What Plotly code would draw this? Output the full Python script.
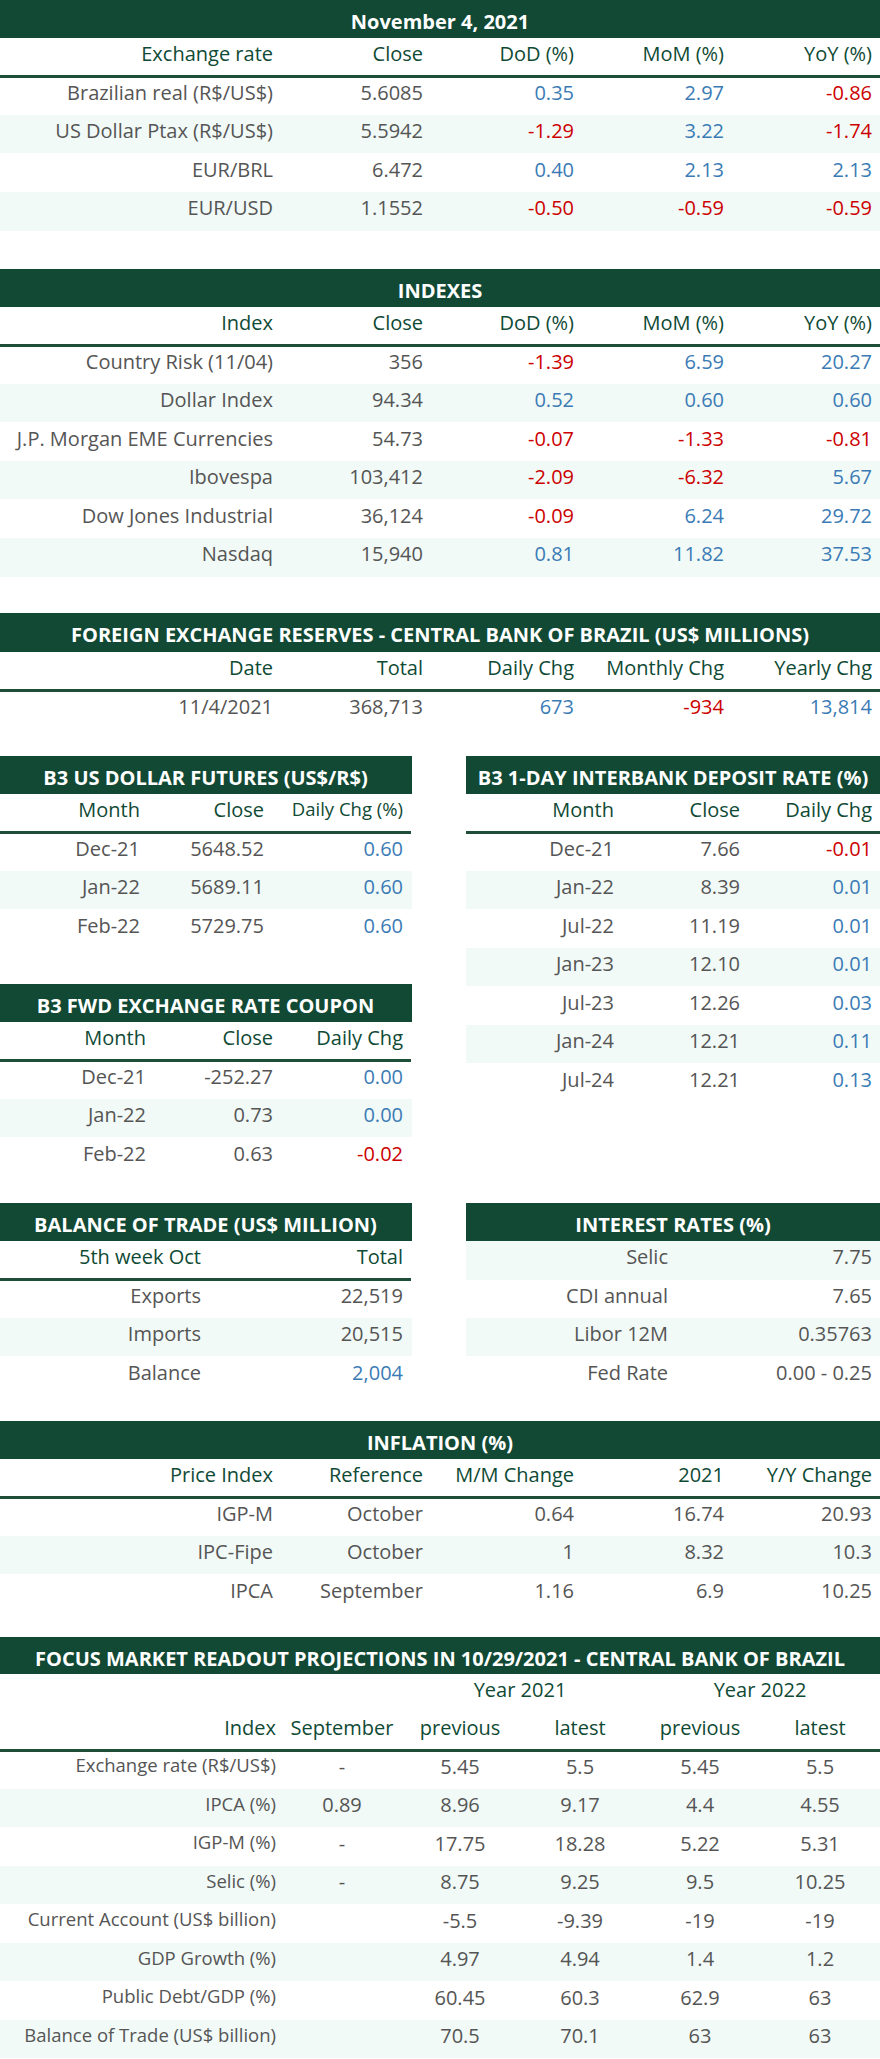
import plotly.graph_objects as go

W, H = 880, 2059
ROW = 38.5
FONT = "Open Sans"
SIZE = 20
GREEN = "#114935"
HEAD = "#0f4a35"
TEXT = "#555555"
BLUE = "#3b7bb5"
RED = "#cc0000"
BAND = "#f1faf7"

# Exchange rate table
fx_names = ["Brazilian real (R$/US$)", "US Dollar Ptax (R$/US$)", "EUR/BRL", "EUR/USD"]
fx_close = ["5.6085", "5.5942", "6.472", "1.1552"]
fx_dod = ["0.35", "-1.29", "0.40", "-0.50"]
fx_mom = ["2.97", "3.22", "2.13", "-0.59"]
fx_yoy = ["-0.86", "-1.74", "2.13", "-0.59"]

# Indexes
idx_names = ["Country Risk (11/04)", "Dollar Index", "J.P. Morgan EME Currencies",
             "Ibovespa", "Dow Jones Industrial", "Nasdaq"]
idx_close = ["356", "94.34", "54.73", "103,412", "36,124", "15,940"]
idx_dod = ["-1.39", "0.52", "-0.07", "-2.09", "-0.09", "0.81"]
idx_mom = ["6.59", "0.60", "-1.33", "-6.32", "6.24", "11.82"]
idx_yoy = ["20.27", "0.60", "-0.81", "5.67", "29.72", "37.53"]

# Foreign exchange reserves
res_date = ["11/4/2021"]
res_total = ["368,713"]
res_daily = ["673"]
res_monthly = ["-934"]
res_yearly = ["13,814"]

# B3 US dollar futures
fut_month = ["Dec-21", "Jan-22", "Feb-22"]
fut_close = ["5648.52", "5689.11", "5729.75"]
fut_chg = ["0.60", "0.60", "0.60"]

# B3 1-day interbank deposit rate
di_month = ["Dec-21", "Jan-22", "Jul-22", "Jan-23", "Jul-23", "Jan-24", "Jul-24"]
di_close = ["7.66", "8.39", "11.19", "12.10", "12.26", "12.21", "12.21"]
di_chg = ["-0.01", "0.01", "0.01", "0.01", "0.03", "0.11", "0.13"]

# B3 fwd exchange rate coupon
cpn_month = ["Dec-21", "Jan-22", "Feb-22"]
cpn_close = ["-252.27", "0.73", "0.63"]
cpn_chg = ["0.00", "0.00", "-0.02"]

# Balance of trade
bot_items = ["Exports", "Imports", "Balance"]
bot_total = ["22,519", "20,515", "2,004"]

# Interest rates
ir_names = ["Selic", "CDI annual", "Libor 12M", "Fed Rate"]
ir_values = ["7.75", "7.65", "0.35763", "0.00 - 0.25"]

# Inflation
inf_index = ["IGP-M", "IPC-Fipe", "IPCA"]
inf_ref = ["October", "October", "September"]
inf_mm = ["0.64", "1", "1.16"]
inf_2021 = ["16.74", "8.32", "6.9"]
inf_yy = ["20.93", "10.3", "10.25"]

# Focus projections
focus_index = ["Exchange rate (R$/US$)", "IPCA (%)", "IGP-M (%)", "Selic (%)",
               "Current Account (US$ billion)", "GDP Growth (%)",
               "Public Debt/GDP (%)", "Balance of Trade (US$ billion)"]
focus_sep = ["-", "0.89", "-", "-", "", "", "", ""]
focus_21_prev = ["5.45", "8.96", "17.75", "8.75", "-5.5", "4.97", "60.45", "70.5"]
focus_21_last = ["5.5", "9.17", "18.28", "9.25", "-9.39", "4.94", "60.3", "70.1"]
focus_22_prev = ["5.45", "4.4", "5.22", "9.5", "-19", "1.4", "62.9", "63"]
focus_22_last = ["5.5", "4.55", "5.31", "10.25", "-19", "1.2", "63", "63"]
focus_years = ["", "Year 2021", "Year 2022"]


def sign_colors(vals):
    return [RED if float(v.replace(",", "")) < 0 else BLUE for v in vals]


def xdom(left, right):
    return [left / W, right / W]


def ydom(top, bottom):
    return [max(0, 1 - bottom / H), 1 - top / H]


fig = go.Figure()
shapes = []


def add_strip(values, widths, left, right, top, height, fill, color, bold=False):
    # one-row band drawn as a table header; its blank cell row sits under the next table
    if bold:
        values = ["<b>" + v + "</b>" if v else v for v in values]
    fig.add_trace(go.Table(
        domain=dict(x=xdom(left, right), y=ydom(top, top + height + ROW + 4)),
        columnwidth=widths,
        header=dict(values=values, fill_color=fill, line=dict(color=fill, width=1),
                    align="center", height=height,
                    font=dict(family=FONT, size=SIZE, color=color)),
        cells=dict(values=[[""] for _ in values], fill_color="white",
                   line=dict(color="white", width=1), height=ROW)))


def add_title(text, left, right, top, height=38):
    add_strip([text], [1], left, right, top, height, GREEN, "white", bold=True)


def add_body(cols, header, widths, aligns, colors, left, right, top,
             header_h=38.5, header_fill="white", header_color=HEAD, underline=True,
             head_sizes=SIZE, cell_sizes=SIZE):
    n = len(cols[0])
    fills = [BAND if i % 2 == 1 else "white" for i in range(n)]
    total = header_h + n * ROW
    fig.add_trace(go.Table(
        domain=dict(x=xdom(left, right), y=ydom(top, top + total + 4)),
        columnwidth=widths,
        header=dict(values=header, fill_color=header_fill,
                    line=dict(color=header_fill, width=1), align=aligns, height=header_h,
                    font=dict(family=FONT, size=head_sizes, color=header_color)),
        cells=dict(values=cols, fill_color=[fills], line=dict(color=[fills], width=1),
                   align=aligns, height=ROW,
                   font=dict(family=FONT, size=cell_sizes, color=colors))))
    if underline:
        y = 1 - (top + header_h) / H
        shapes.append(dict(type="line", xref="paper", yref="paper",
                           x0=left / W, x1=right / W, y0=y, y1=y,
                           line=dict(color="#1e4d38", width=3)))


R5 = ["right"] * 5
W5 = [281, 150, 151, 150, 148]

# 1 exchange rate
add_title("November 4, 2021", 0, 880, 0)
add_body([fx_names, fx_close, fx_dod, fx_mom, fx_yoy],
         ["Exchange rate", "Close", "DoD (%)", "MoM (%)", "YoY (%)"], W5, R5,
         [TEXT, TEXT, sign_colors(fx_dod), sign_colors(fx_mom), sign_colors(fx_yoy)],
         0, 880, 38)

# 2 indexes
add_title("INDEXES", 0, 880, 269)
add_body([idx_names, idx_close, idx_dod, idx_mom, idx_yoy],
         ["Index", "Close", "DoD (%)", "MoM (%)", "YoY (%)"], W5, R5,
         [TEXT, TEXT, sign_colors(idx_dod), sign_colors(idx_mom), sign_colors(idx_yoy)],
         0, 880, 307)

# 3 reserves
add_title("FOREIGN EXCHANGE RESERVES - CENTRAL BANK OF BRAZIL (US$ MILLIONS)", 0, 880, 613)
add_body([res_date, res_total, res_daily, res_monthly, res_yearly],
         ["Date", "Total", "Daily Chg", "Monthly Chg", "Yearly Chg"], W5, R5,
         [TEXT, TEXT, sign_colors(res_daily), sign_colors(res_monthly), sign_colors(res_yearly)],
         0, 880, 652)

# 4 dollar futures
add_title("B3 US DOLLAR FUTURES (US$/R$)", 0, 411, 756)
add_body([fut_month, fut_close, fut_chg], ["Month", "Close", "Daily Chg (%)"],
         [148, 124, 139], ["right"] * 3, [TEXT, TEXT, sign_colors(fut_chg)],
         0, 411, 794, head_sizes=[SIZE, SIZE, 18.5])

# 5 interbank deposit rate
add_title("B3 1-DAY INTERBANK DEPOSIT RATE (%)", 466, 880, 756)
add_body([di_month, di_close, di_chg], ["Month", "Close", "Daily Chg"],
         [156, 126, 132], ["right"] * 3, [TEXT, TEXT, sign_colors(di_chg)],
         466, 880, 794)

# 6 fwd coupon
add_title("B3 FWD EXCHANGE RATE COUPON", 0, 411, 984)
add_body([cpn_month, cpn_close, cpn_chg], ["Month", "Close", "Daily Chg"],
         [154, 127, 130], ["right"] * 3, [TEXT, TEXT, sign_colors(cpn_chg)],
         0, 411, 1022)

# 7 balance of trade
add_title("BALANCE OF TRADE (US$ MILLION)", 0, 411, 1203)
add_body([bot_items, bot_total], ["5th week Oct", "Total"], [209, 202], ["right"] * 2,
         [TEXT, [TEXT, TEXT, BLUE]], 0, 411, 1241)

# 8 interest rates (first row doubles as the header, banded)
add_title("INTEREST RATES (%)", 466, 880, 1203)
add_body([ir_names[1:], ir_values[1:]], [ir_names[0], ir_values[0]], [210, 204],
         ["right"] * 2, [TEXT, TEXT], 466, 880, 1241,
         header_fill=BAND, header_color=TEXT, underline=False)

# 9 inflation
add_title("INFLATION (%)", 0, 880, 1421)
add_body([inf_index, inf_ref, inf_mm, inf_2021, inf_yy],
         ["Price Index", "Reference", "M/M Change", "2021", "Y/Y Change"], W5, R5,
         [TEXT] * 5, 0, 880, 1459)

# 10 focus
add_title("FOCUS MARKET READOUT PROJECTIONS IN 10/29/2021 - CENTRAL BANK OF BRAZIL",
          0, 880, 1637, height=37)
add_strip(focus_years, [400, 240, 240], 0, 880, 1674, 38, "white", HEAD)
add_body([focus_index, focus_sep, focus_21_prev, focus_21_last, focus_22_prev, focus_22_last],
         ["Index", "September", "previous", "latest", "previous", "latest"],
         [284, 116, 120, 120, 120, 120], ["right"] + ["center"] * 5, [TEXT] * 6,
         0, 880, 1712, cell_sizes=[18.5] + [SIZE] * 5)

fig.update_layout(width=W, height=H, margin=dict(l=0, r=0, t=0, b=0),
                  paper_bgcolor="white", plot_bgcolor="white", shapes=shapes,
                  showlegend=False)

fig.write_html("out.html", config={"displayModeBar": False},
               post_script="document.body.style.margin='0';")
